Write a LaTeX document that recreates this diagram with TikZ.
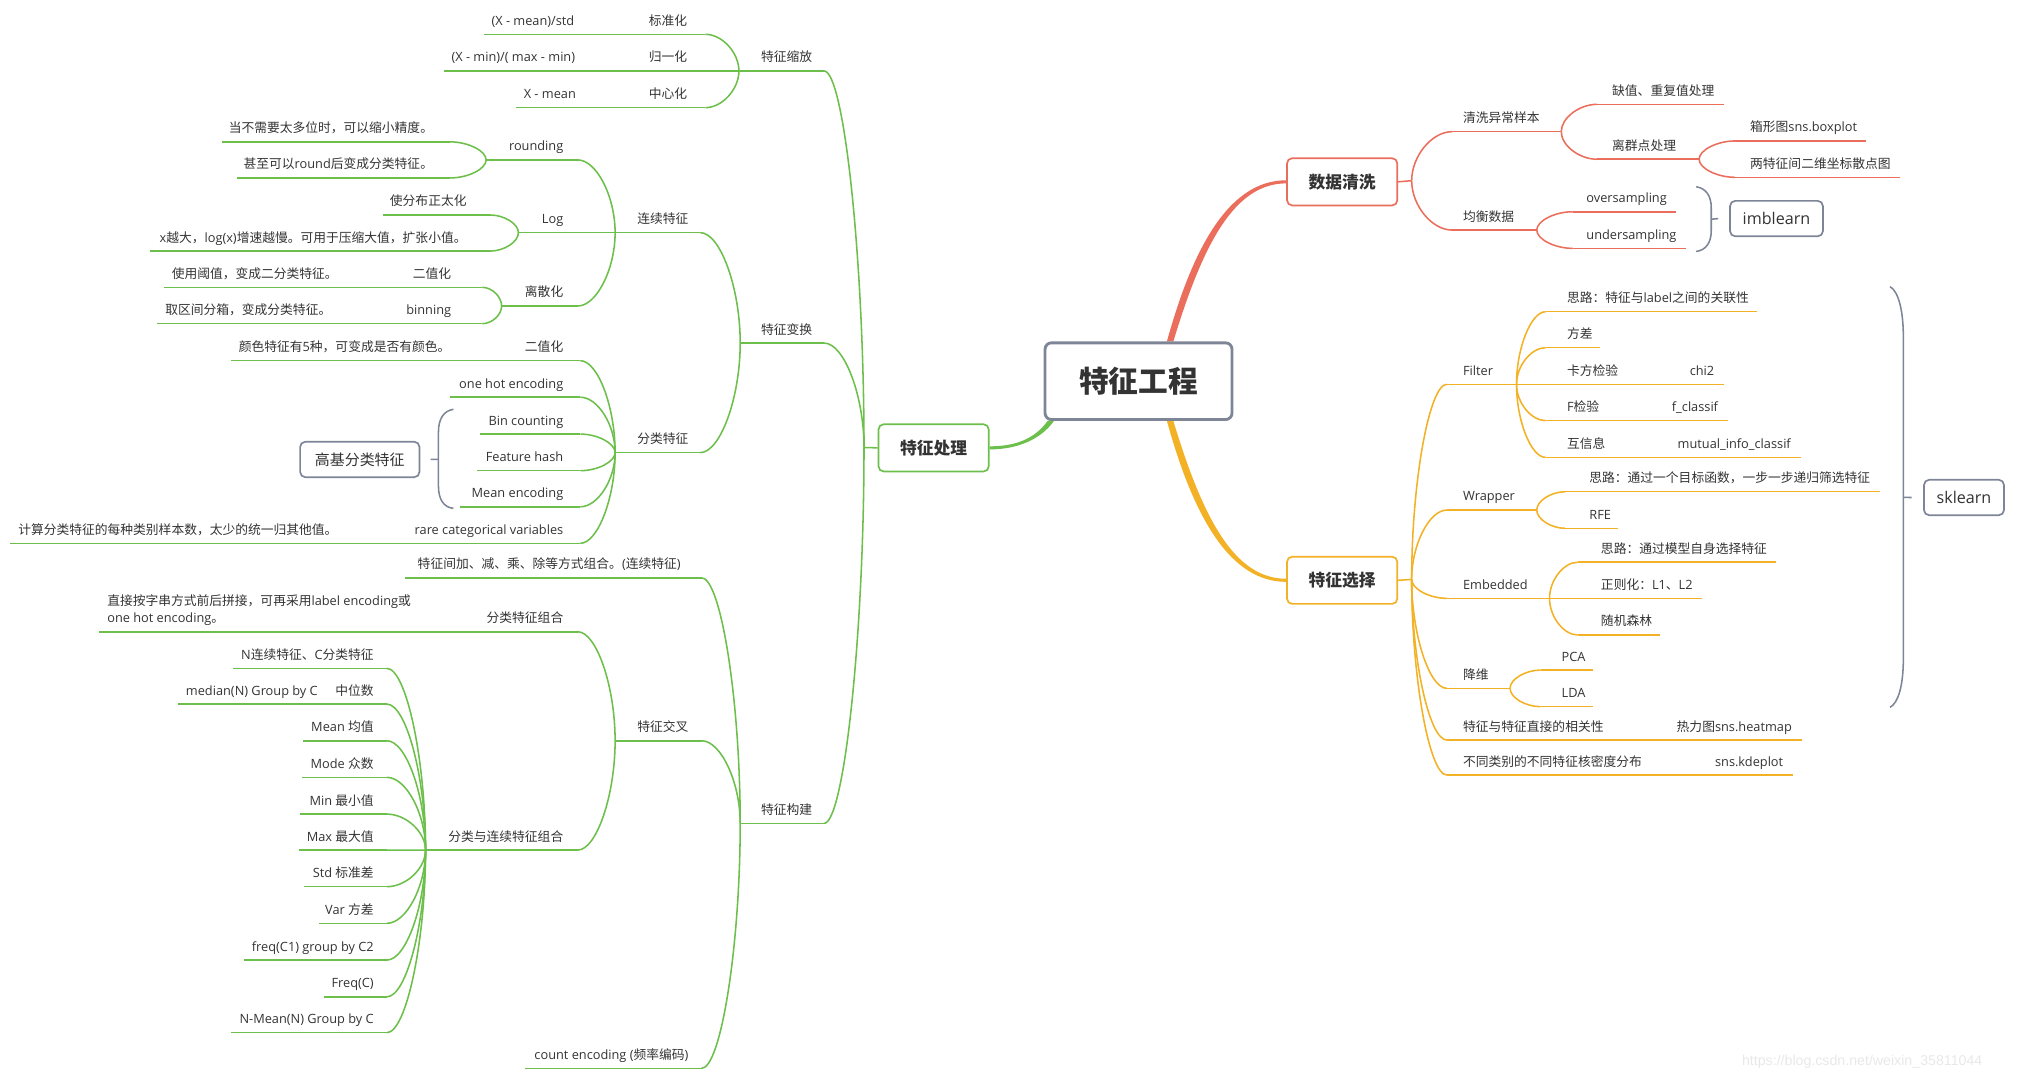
\documentclass[tikz,border=0pt]{standalone}
\usepackage{fontspec}
\setmainfont{Open Sans}
\newfontfamily\latinfont{Open Sans}
\newfontfamily\cjkfont{Noto Sans CJK SC}
\newfontfamily\wmfont{Liberation Sans}
\usetikzlibrary{calc,backgrounds}

\definecolor{procgreen}{HTML}{6DBF4B}
\definecolor{cleanred}{HTML}{EB6E5C}
\definecolor{selorange}{HTML}{F3B125}
\definecolor{sumgray}{HTML}{7E8597}
\definecolor{labeltext}{HTML}{333333}

\XeTeXinterchartokenstate=1
\chardef\cjkclass=10
\newcount\cjkcode
\def\setcjkrange#1#2{\cjkcode=#1\relax
  \loop\XeTeXcharclass\cjkcode=\cjkclass\relax
  \ifnum\cjkcode<#2\relax\advance\cjkcode by 1\relax\repeat}
\setcjkrange{"3000}{"303F}
\setcjkrange{"4E00}{"9FFF}
\setcjkrange{"FF00}{"FFEF}
\XeTeXinterchartoks 0 \cjkclass = {\cjkfont}
\XeTeXinterchartoks 4095 \cjkclass = {\cjkfont}
\XeTeXinterchartoks \cjkclass 0 = {\latinfont}
\XeTeXinterchartoks \cjkclass 4095 = {\latinfont}

\newcommand\topicL[6]{%
  \coordinate (#1-l) at (#2,#4);
  \coordinate (#1-r) at (#3,#4);
  \draw[ul] (#1-l) -- (#1-r);
  \node[lbl,anchor=base east] (#1) at ([yshift=7pt]#5,#4) {#6};}
\newcommand\topicR[6]{%
  \coordinate (#1-l) at (#2,#4);
  \coordinate (#1-r) at (#3,#4);
  \draw[ul] (#1-l) -- (#1-r);
  \node[lbl,anchor=base west] (#1) at ([yshift=7pt]#5,#4) {#6};}
\newcommand\noteL[2]{\node[lbl,anchor=base west] (#1-n) at ([xshift=6pt,yshift=7pt]#1-l) {#2};}
\newcommand\noteR[2]{\node[lbl,anchor=base east] (#1-n) at ([xshift=-7.5pt,yshift=7pt]#1-r) {#2};}

\begin{document}
\begin{tikzpicture}[x=1pt,y=-1pt,
  lbl/.style={font=\fontsize{9.9}{12.9}\selectfont,text=labeltext,inner sep=0pt},
  topbox/.style={draw,fill=white,rounded corners=4pt,line width=1.3pt,minimum width=85.5pt,minimum height=36.6pt,text=labeltext,font=\fontsize{13}{15}\selectfont\bfseries},
  rootbox/.style={draw=sumgray,fill=white,rounded corners=5pt,line width=2.2pt,minimum width=145pt,minimum height=59.5pt,text=labeltext,font=\fontsize{23}{26}\selectfont\bfseries},
  sumbox/.style={draw=sumgray,fill=white,rounded corners=4pt,line width=1.3pt,minimum height=27.5pt,text=labeltext,font=\fontsize{12.5}{14}\selectfont},
  brace/.style={draw=sumgray,line width=1.2pt},
  br/.style={to path={.. controls ($(\tikztostart)!.5!(\tikztostart |- \tikztotarget)$) and ($(\tikztotarget)!.5!(\tikztotarget -| \tikztostart)$) .. (\tikztotarget)}}
]
\useasboundingbox (0,0) rectangle (1568,836);

\node[rootbox] (root) at (882.9,295.6) {特征工程};
\node[topbox,draw=procgreen] (proc) at (724,347.3) {特征处理};
\node[topbox,draw=cleanred] (clean) at (1040.8,141) {数据清洗};
\node[topbox,draw=selorange] (sel) at (1040.8,450) {特征选择};
\node[sumbox,minimum width=92.5pt,font=\fontsize{11.6}{14}\selectfont] (hicard) at (279,356.3) {高基分类特征};
\node[sumbox,minimum width=72pt] (imb) at (1377.6,169.5) {imblearn};
\node[sumbox,minimum width=62pt] (skl) at (1523,385.8) {sklearn};

\begin{scope}[on background layer]
\fill[cleanred] ([xshift=22pt]root.north) .. controls +(21,-76) and +(-43,0) .. ([yshift=1.2pt]clean.west)
  -- ([yshift=-1.2pt]clean.west) .. controls +(-40,0) and +(23,-76) .. ([xshift=27pt]root.north) -- cycle;
\fill[selorange] ([xshift=22pt]root.south) .. controls +(21,76) and +(-43,0) .. ([yshift=-1.2pt]sel.west)
  -- ([yshift=1.2pt]sel.west) .. controls +(-40,0) and +(23,76) .. ([xshift=27pt]root.south) -- cycle;
\fill[procgreen] ([xshift=3pt]root.south west) .. controls +(-10,14) and +(20,0) .. ([yshift=1.2pt]proc.east)
  -- ([yshift=-1.2pt]proc.east) .. controls +(22,0) and +(-10,14) .. ([xshift=8pt]root.south west) -- cycle;
\end{scope}

\begin{scope}[ul/.style={draw=procgreen,line width=1.2pt}]
\coordinate (f0) at (670,347);
\topicL{scale}{573}{639}{55}{630}{特征缩放}
\topicL{trans}{574}{639}{266}{630}{特征变换}
\topicL{build}{574}{639}{638.5}{630}{特征构建}
\topicL{std}{375}{547}{26.6}{533}{标准化}
\noteL{std}{(X - mean)/std}
\topicL{norm}{344}{547}{55}{533}{归一化}
\noteL{norm}{(X - min)/( max - min)}
\topicL{cent}{400}{547}{83.5}{533}{中心化}
\noteL{cent}{X - mean}
\topicL{cont}{477}{543}{180.4}{534}{连续特征}
\topicL{cat}{477}{543}{351}{534}{分类特征}
\topicL{rnd}{377}{448}{124}{437}{rounding}
\topicL{log}{402}{448}{180.4}{437}{Log}
\topicL{disc}{389}{448}{237.3}{437}{离散化}
\topicL{r1}{172}{349}{110}{336}{当不需要太多位时，可以缩小精度。}
\topicL{r2}{184}{349}{138}{336}{甚至可以round后变成分类特征。}
\topicL{l1}{297}{380}{166.7}{362}{使分布正太化}
\topicL{l2}{116}{380}{194.7}{362}{x越大，log(x)增速越慢。可用于压缩大值，扩张小值。}
\topicL{d1}{127}{374}{222.8}{350}{二值化}
\noteL{d1}{使用阈值，变成二分类特征。}
\topicL{d2}{122}{374}{251}{350}{binning}
\noteL{d2}{取区间分箱，变成分类特征。}
\topicL{bin2}{179}{450}{279.7}{437}{二值化}
\noteL{bin2}{颜色特征有5种，可变成是否有颜色。}
\topicL{ohe}{349}{450}{308}{437}{one hot encoding}
\topicL{binc}{372}{450}{336.6}{437}{Bin counting}
\topicL{fhash}{370}{450}{365}{437}{Feature hash}
\topicL{menc}{357}{450}{393}{437}{Mean encoding}
\topicL{rare}{8}{450}{421.3}{437}{rare categorical variables}
\noteL{rare}{计算分类特征的每种类别样本数，太少的统一归其他值。}
\topicL{comb}{314}{544}{448}{528}{特征间加、减、乘、除等方式组合。(连续特征)}
\topicL{cross}{477}{544}{574.4}{534}{特征交叉}
\topicL{count}{407}{544}{828.5}{534}{count encoding (频率编码)}
\topicL{ccomb}{77}{448}{489.9}{437}{分类特征组合}
\node[lbl,align=left,anchor=south west] (ccomb-n) at ([xshift=6pt,yshift=4.6pt]ccomb-l) {直接按字串方式前后拼接，可再采用label encoding或\\one hot encoding。};
\topicL{mix}{330}{448}{659.2}{437}{分类与连续特征组合}
\topicL{s1}{181}{300}{518.3}{290}{N连续特征、C分类特征}
\topicL{s2}{138}{300}{546}{290}{中位数}
\noteL{s2}{median(N) Group by C}
\topicL{s3}{235}{300}{574.4}{290}{Mean 均值}
\topicL{s4}{234.5}{300}{602.8}{290}{Mode 众数}
\topicL{s5}{233}{300}{631.3}{290}{Min 最小值}
\topicL{s6}{232}{300}{659.2}{290}{Max 最大值}
\topicL{s7}{236}{300}{687.6}{290}{Std 标准差}
\topicL{s8}{247}{300}{716}{290}{Var 方差}
\topicL{s9}{189}{300}{744.5}{290}{freq(C1) group by C2}
\topicL{s10}{251}{300}{773}{290}{Freq(C)}
\topicL{s11}{179}{300}{800.8}{290}{N-Mean(N) Group by C}

\draw[ul] (proc.west) -- (f0);
\foreach \c in {scale,trans,build} \draw[ul] (f0) to[br] (\c-r);
\foreach \c in {std,norm,cent} \draw[ul] (scale-l) to[br] (\c-r);
\foreach \c in {cont,cat} \draw[ul] (trans-l) to[br] (\c-r);
\foreach \c in {rnd,log,disc} \draw[ul] (cont-l) to[br] (\c-r);
\foreach \c in {r1,r2} \draw[ul] (rnd-l) to[br] (\c-r);
\foreach \c in {l1,l2} \draw[ul] (log-l) to[br] (\c-r);
\foreach \c in {d1,d2} \draw[ul] (disc-l) to[br] (\c-r);
\foreach \c in {bin2,ohe,binc,fhash,menc,rare} \draw[ul] (cat-l) to[br] (\c-r);
\foreach \c in {comb,cross,count} \draw[ul] (build-l) to[br] (\c-r);
\foreach \c in {ccomb,mix} \draw[ul] (cross-l) to[br] (\c-r);
\foreach \i in {1,...,11} \draw[ul] (mix-l) to[br] (s\i-r);
\end{scope}

\coordinate (hb) at (340,356.2);
\draw[brace] (351.6,317.4) .. controls (344,318.5) and (340,325) .. (340,335) -- (340,377) .. controls (340,387) and (344,393.5) .. (351.6,394.2);
\draw[brace] (hb) -- ([xshift=8pt]hicard.east);

\begin{scope}[ul/.style={draw=cleanred,line width=1.2pt}]
\coordinate (fc) at (1094.7,140.1);
\topicR{outl}{1126}{1210.7}{102.1}{1134.4}{清洗异常样本}
\topicR{bal}{1126}{1191.7}{178.4}{1134.4}{均衡数据}
\topicR{miss}{1238.5}{1337}{80.9}{1250}{缺值、重复值处理}
\topicR{outp}{1238.5}{1317.6}{123.5}{1250}{离群点处理}
\topicR{boxp}{1345.5}{1447}{109.3}{1357}{箱形图sns.boxplot}
\topicR{scat}{1345.5}{1473.5}{137.5}{1357}{两特征间二维坐标散点图}
\topicR{over}{1219.6}{1299.7}{164.2}{1230}{oversampling}
\topicR{under}{1219.6}{1307.5}{192.6}{1230}{undersampling}
\draw[ul] (clean.east) -- (fc);
\foreach \c in {outl,bal} \draw[ul] (fc) to[br] (\c-l);
\foreach \c in {miss,outp} \draw[ul] (outl-r) to[br] (\c-l);
\foreach \c in {boxp,scat} \draw[ul] (outp-r) to[br] (\c-l);
\foreach \c in {over,under} \draw[ul] (bal-r) to[br] (\c-l);
\end{scope}

\coordinate (ib) at (1327,170);
\draw[brace] (1315.3,144.8) .. controls (1323,146) and (1327,152) .. (1327,161) -- (1327,179) .. controls (1327,188) and (1323,194) .. (1315.3,195);
\draw[brace] (ib) -- ([xshift=-8.5pt]imb.west);

\begin{scope}[ul/.style={draw=selorange,line width=1.2pt}]
\coordinate (fs) at (1094.7,449.3);
\topicR{filt}{1122}{1176}{298}{1134.4}{Filter}
\topicR{wrap}{1122}{1191.7}{395.5}{1134.4}{Wrapper}
\topicR{emb}{1122}{1201.6}{464}{1134.4}{Embedded}
\topicR{dim}{1122}{1171}{533.8}{1134.4}{降维}
\topicR{corr}{1122}{1397.2}{573.9}{1134.4}{特征与特征直接的相关性}
\noteR{corr}{热力图sns.heatmap}
\topicR{kde}{1122}{1390.5}{601}{1134.4}{不同类别的不同特征核密度分布}
\noteR{kde}{sns.kdeplot}
\topicR{idea1}{1198.6}{1362.8}{241.7}{1215}{思路：特征与label之间的关联性}
\topicR{var}{1198.6}{1241}{269.6}{1215}{方差}
\topicR{chi}{1198.6}{1337}{298}{1215}{卡方检验}
\noteR{chi}{chi2}
\topicR{fcl}{1198.6}{1340}{326.2}{1215}{F检验}
\noteR{fcl}{f\_classif}
\topicR{mi}{1198.6}{1396.4}{354.7}{1215}{互信息}
\noteR{mi}{mutual\_info\_classif}
\topicR{idea2}{1213.9}{1457.6}{381.3}{1232.3}{思路：通过一个目标函数，一步一步递归筛选特征}
\topicR{rfe}{1213.9}{1255}{409.7}{1232.3}{RFE}
\topicR{idea3}{1223.4}{1377.3}{436}{1241.3}{思路：通过模型自身选择特征}
\topicR{reg}{1223.4}{1319.9}{464}{1241.3}{正则化：L1、L2}
\topicR{rf}{1223.4}{1287}{492.4}{1241.3}{随机森林}
\topicR{pca}{1194.7}{1235.6}{519.6}{1210.8}{PCA}
\topicR{lda}{1194.7}{1235.6}{548}{1210.8}{LDA}
\draw[ul] (sel.east) -- (fs);
\foreach \c in {filt,wrap,emb,dim,corr,kde} \draw[ul] (fs) to[br] (\c-l);
\foreach \c in {idea1,var,chi,fcl,mi} \draw[ul] (filt-r) to[br] (\c-l);
\foreach \c in {idea2,rfe} \draw[ul] (wrap-r) to[br] (\c-l);
\foreach \c in {idea3,reg,rf} \draw[ul] (emb-r) to[br] (\c-l);
\foreach \c in {pca,lda} \draw[ul] (dim-r) to[br] (\c-l);
\end{scope}

\coordinate (sb) at (1476,385.7);
\draw[brace] (1465.7,222.3) .. controls (1472,226) and (1476,240) .. (1476,262) -- (1476,510) .. controls (1476,532) and (1472,545) .. (1465.7,548.5);
\draw[brace] (sb) -- ([xshift=-9pt]skl.west);

\node[font=\wmfont\fontsize{11}{13}\selectfont,text=black!9,anchor=base west,inner sep=0pt] (wm) at (1350.7,826.5) {https://blog.csdn.net/weixin\_35811044};
\end{tikzpicture}
\end{document}
